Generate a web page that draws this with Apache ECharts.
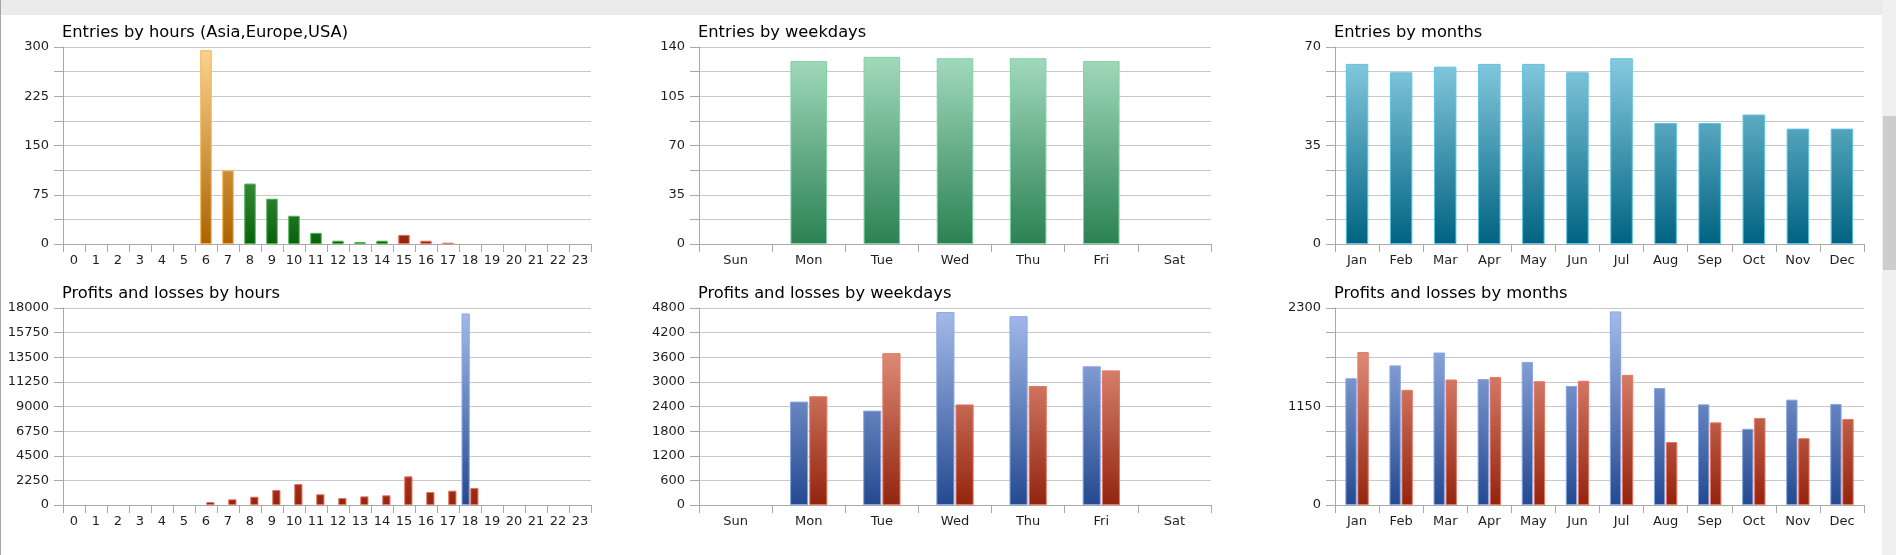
<!DOCTYPE html>
<html>
<head>
<meta charset="utf-8">
<script src="https://cdn.jsdelivr.net/npm/echarts@6/dist/echarts.min.js"></script>
<style>
  html, body { margin: 0; padding: 0; background: #ffffff; }
  #wrap { position: relative; width: 1896px; height: 555px; overflow: hidden; background: #fff; }
  #topband { position: absolute; left: 0; top: 0; width: 1882px; height: 15px; background: #ebebeb; }
  #leftborder { position: absolute; left: 0; top: 0; width: 1px; height: 555px; background: #a6a6a6; }
  #track { position: absolute; left: 1882px; top: 0; width: 14px; height: 555px; background: #f0f0f0; }
  #thumb { position: absolute; left: 1883px; top: 116px; width: 13px; height: 154px; background: #cdcdcd; }
  #chart { position: absolute; left: 0; top: 0; width: 1896px; height: 555px; }
</style>
</head>
<body>
<div id="wrap">
  <div id="topband"></div>
  <div id="leftborder"></div>
  <div id="track"></div>
  <div id="thumb"></div>
  <div id="chart"></div>
</div>
<script>
// ---------- data ----------
const hours = ['0','1','2','3','4','5','6','7','8','9','10','11','12','13','14','15','16','17','18','19','20','21','22','23'];
const asiaEntries   = [0,0,0,0,0,0,295,112,0,0,0,0,0,0,0,0,0,0,0,0,0,0,0,0];
const europeEntries = [0,0,0,0,0,0,0,0,92,69,43,17,5,3,5,0,0,0,0,0,0,0,0,0];
const usaEntries    = [0,0,0,0,0,0,0,0,0,0,0,0,0,0,0,14,5,2,0,0,0,0,0,0];
const hourProfits   = [0,0,0,0,0,0,0,0,0,0,0,0,0,0,0,0,0,0,17500,0,0,0,0,0];
const hourLosses    = [0,0,0,0,0,0,270,520,760,1380,1920,980,640,790,885,2620,1190,1310,1560,0,0,0,0,0];

const weekdays = ['Sun','Mon','Tue','Wed','Thu','Fri','Sat'];
const weekdayEntries = [0,130,133,132,132,130,0];
const weekdayProfits = [0,2520,2300,4700,4600,3380,0];
const weekdayLosses  = [0,2650,3700,2450,2900,3280,0];

const months = ['Jan','Feb','Mar','Apr','May','Jun','Jul','Aug','Sep','Oct','Nov','Dec'];
const monthEntries = [64,61,63,64,64,61,66,43,43,46,41,41];
const monthProfits = [1480,1630,1780,1470,1670,1390,2260,1365,1175,890,1230,1180];
const monthLosses  = [1785,1345,1465,1495,1445,1450,1520,735,965,1015,780,1005];

const titles = ['Entries by hours (Asia,Europe,USA)','Entries by weekdays','Entries by months',
                'Profits and losses by hours','Profits and losses by weekdays','Profits and losses by months'];

// y axis: [max, gridline interval, label step]
const yScales = [[300,37.5,75],[140,17.5,35],[70,8.75,35],[18000,2250,2250],[4800,600,600],[2300,287.5,1150]];

// ---------- layout ----------
const FONT = 'DejaVu Sans';
const cols = [{left:63,width:528},{left:699,width:512},{left:1335,width:529}];
const rows = [{top:47,height:197},{top:308,height:197}];

const grids = [], xAxes = [], yAxes = [], titleOpts = [], series = [];
const cats = [hours, weekdays, months];

for (let r = 0; r < 2; r++) {
  for (let c = 0; c < 3; c++) {
    const i = r*3 + c;
    grids.push({left: cols[c].left, top: rows[r].top, width: cols[c].width, height: rows[r].height, containLabel: false});
    titleOpts.push({
      text: titles[i], left: cols[c].left - 1, top: rows[r].top - 23.5, padding: 0,
      textStyle: {fontFamily: FONT, fontSize: 16.3, fontWeight: 'normal', color: '#000', lineHeight: 18}
    });
    xAxes.push({
      type: 'category', gridIndex: i, data: cats[c],
      axisLine: {show: true, lineStyle: {color: '#a9a9a9', width: 1}},
      axisTick: {show: true, length: 8, lineStyle: {color: '#a9a9a9'}},
      axisLabel: {interval: 0, color: '#1e1e1e', fontFamily: FONT, fontSize: 13, margin: 10},
      splitLine: {show: false}
    });
    const [mx, iv, step] = yScales[i];
    yAxes.push({
      type: 'value', gridIndex: i, min: 0, max: mx, interval: iv,
      axisLine: {show: true, lineStyle: {color: '#a9a9a9', width: 1}},
      axisTick: {show: true, length: 9, lineStyle: {color: '#a9a9a9'}},
      splitLine: {show: true, lineStyle: {color: '#c8c8c8', width: 1}},
      axisLabel: {
        color: '#1e1e1e', fontFamily: FONT, fontSize: 13, margin: 14,
        formatter: function (v) {
          const q = v / step;
          return Math.abs(q - Math.round(q)) < 1e-6 ? String(Math.round(v)) : '';
        }
      }
    });
  }
}

function grad(top, bottom, row) {
  const y0 = rows[row].top, y1 = rows[row].top + rows[row].height;
  return new echarts.graphic.LinearGradient(0, y0, 0, y1,
    [{offset: 0, color: top}, {offset: 1, color: bottom}], true);
}
const nz = arr => arr.map(v => v === 0 ? '-' : v);

const BLUE = ['#a6bdeb', '#244990', '#87a6e4'];
const RED  = ['#f4a893', '#93240e', '#ea7460'];

function bar(idx, data, colors, row, extra) {
  return Object.assign({
    type: 'bar', xAxisIndex: idx, yAxisIndex: idx, data: nz(data),
    itemStyle: {color: grad(colors[0], colors[1], row), borderColor: colors[2], borderWidth: 1},
    emphasis: {disabled: true}, silent: true
  }, extra || {});
}

// chart 1 : entries by hours (three regions)
series.push(bar(0, asiaEntries,   ['#fcd592', '#ab6300', '#f7b246'], 0, {barWidth: '52%', barGap: '-100%'}));
series.push(bar(0, europeEntries, ['#98da9b', '#09610b', '#4db351'], 0, {barWidth: '52%', barGap: '-100%'}));
series.push(bar(0, usaEntries,    RED, 0, {barWidth: '52%', barGap: '-100%'}));
// chart 2 : entries by weekdays
series.push(bar(1, weekdayEntries, ['#a8dfc1', '#2b8154', '#7fd3a4'], 0, {barWidth: '50%'}));
// chart 3 : entries by months
series.push(bar(2, monthEntries, ['#8ed1e5', '#006381', '#5cc3e2'], 0, {barWidth: '51%'}));
// chart 4 : P&L by hours
series.push(bar(3, hourProfits, BLUE, 1, {barGap: '6%', barCategoryGap: '23%'}));
series.push(bar(3, hourLosses,  RED,  1, {barGap: '6%', barCategoryGap: '23%'}));
// chart 5 : P&L by weekdays
series.push(bar(4, weekdayProfits, BLUE, 1, {barGap: '6%', barCategoryGap: '49%'}));
series.push(bar(4, weekdayLosses,  RED,  1, {barGap: '6%', barCategoryGap: '49%'}));
// chart 6 : P&L by months
series.push(bar(5, monthProfits, BLUE, 1, {barGap: '6%', barCategoryGap: '47%'}));
series.push(bar(5, monthLosses,  RED,  1, {barGap: '6%', barCategoryGap: '47%'}));

const chart = echarts.init(document.getElementById('chart'), null, {renderer: 'canvas'});
chart.setOption({
  animation: false,
  backgroundColor: 'transparent',
  title: titleOpts,
  grid: grids,
  xAxis: xAxes,
  yAxis: yAxes,
  tooltip: {show: false},
  series: series
});
</script>
</body>
</html>
